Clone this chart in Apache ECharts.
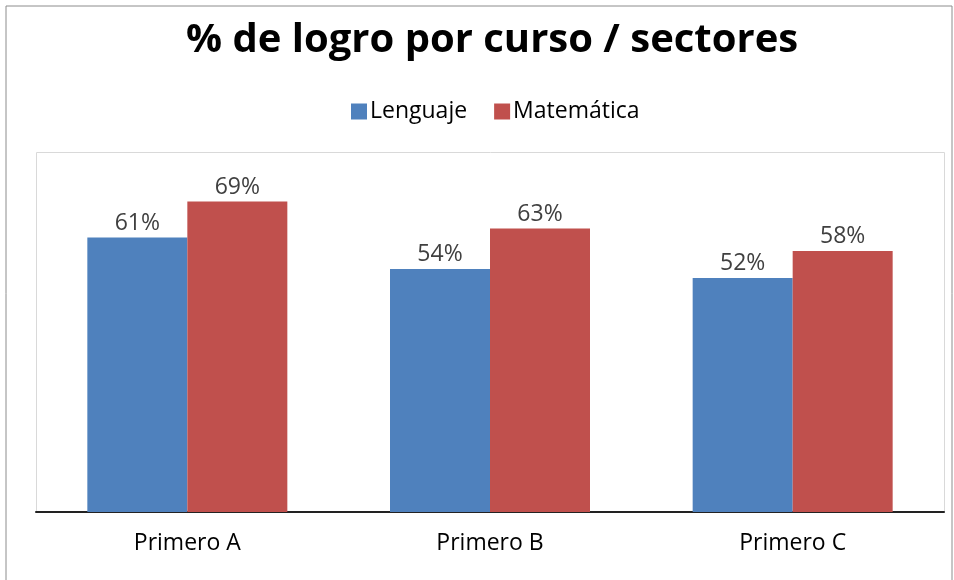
<!DOCTYPE html>
<html><head><meta charset="utf-8">
<script src="https://cdn.jsdelivr.net/npm/echarts@6/dist/echarts.min.js"></script>
<style>html,body{margin:0;padding:0;background:#fff}#c{width:954px;height:580px}</style>
</head><body><div id="c"></div>
<script>
var categories = ['Primero A', 'Primero B', 'Primero C'];
var seriesNames = ['Lenguaje', 'Matemática'];
var lenguaje = [0.61, 0.54, 0.52];
var matematica = [0.69, 0.63, 0.58];

var chart = echarts.init(document.getElementById('c'));
var F = '"Open Sans", sans-serif';
function lbl(v){ return Math.round(v.value*100) + '%'; }
chart.setOption({
  animation: false,
  graphic: [
    {type:'rect', shape:{x:6, y:6, width:946, height:600}, style:{fill:'none', stroke:'#8c8c8c', lineWidth:1}, z:-10},
    {type:'rect', shape:{x:36.5, y:152.5, width:908, height:360}, style:{fill:'none', stroke:'#d9d9d9', lineWidth:1}, z:-5}
  ],
  title: {
    text: '% de logro por curso / sectores',
    left: 181, top: 16,
    textStyle: {fontFamily: F, fontSize: 40, fontWeight: 'bold', color: '#000'}
  },
  legend: {
    top: 95, left: 346,
    itemWidth: 16, itemHeight: 16, itemGap: 27,
    icon: 'rect',
    textStyle: {fontFamily: F, fontSize: 23, color: '#000', padding:[0,0,0,-2]},
    data: seriesNames
  },
  grid: {left: 36, right: 10, top: 152, bottom: 68, containLabel: false},
  xAxis: {
    type: 'category', data: categories,
    axisLine: {lineStyle: {color: '#222', width: 2}},
    axisTick: {show: false},
    axisLabel: {fontFamily: F, fontSize: 23, color: '#000', margin: 20}
  },
  yAxis: {type: 'value', min: 0, max: 0.8, show: false, splitLine:{show:false}},
  series: [
    {name: seriesNames[0], type: 'bar', data: lenguaje, barWidth: 100, barGap: '0%',
     itemStyle: {color: '#4F81BD'},
     label: {show: true, position: 'top', formatter: lbl, fontFamily: F, fontSize: 23, color: '#404040', distance: 3}},
    {name: seriesNames[1], type: 'bar', data: matematica, barWidth: 100, barGap: '0%',
     itemStyle: {color: '#C0504D'},
     label: {show: true, position: 'top', formatter: lbl, fontFamily: F, fontSize: 23, color: '#404040', distance: 3}}
  ]
});
</script></body></html>
